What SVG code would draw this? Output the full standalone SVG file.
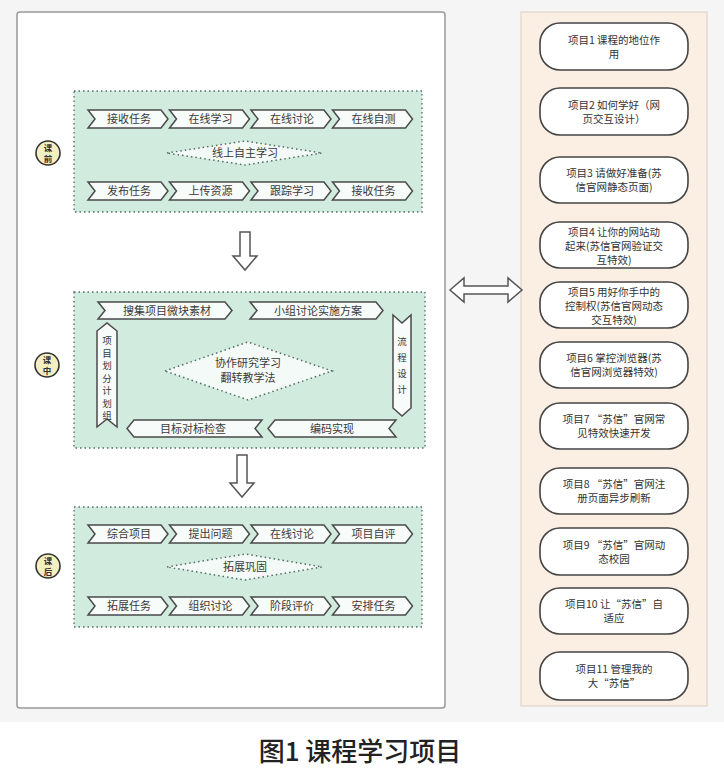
<svg xmlns="http://www.w3.org/2000/svg" width="724" height="777" viewBox="0 0 724 777">
<defs>
<style>
text{font-family:"Noto Sans CJK SC","Noto Sans",sans-serif;fill:#3a3a3a;}
.zone{fill:#d2ebdf;stroke:#4f6f60;stroke-width:1.3;stroke-dasharray:1.5 3;}
.chev{fill:#f7fbf9;stroke:#4a4a4a;stroke-width:1.5;}
.ct{font-size:11px;text-anchor:middle;}
.vt{font-size:9.5px;text-anchor:middle;}
.dia{fill:#f4faf7;stroke:#4f6f60;stroke-width:1.5;stroke-dasharray:1.5 3;}
.badge{fill:#f3efc2;stroke:#333;stroke-width:1.6;}
.bt{font-size:8.5px;font-weight:bold;text-anchor:middle;fill:#333;}
.blk{fill:#fff;stroke:#555;stroke-width:1.5;}
.pill{fill:#fff;stroke:#444;stroke-width:1.6;}
.pt{font-size:10.5px;text-anchor:middle;fill:#333;}
</style>
</defs>
<rect x="0" y="0" width="724" height="777" fill="#ffffff"/>
<rect x="0" y="0" width="724" height="722" fill="#f5f5f5"/>
<rect x="17" y="12" width="428" height="696" rx="3" fill="#fff" stroke="#999" stroke-width="1.5"/>
<rect x="521" y="12" width="186" height="694" fill="#fbeee2" stroke="#d9cfc6" stroke-width="1"/>

<g id="pre">
<rect class="zone" x="74" y="91" width="348" height="121"/>
<g id="pre-badge"><circle class="badge" cx="48" cy="153" r="12"/><text class="bt" x="48" y="151">课</text><text class="bt" x="48" y="161.5">前</text></g>
<g id="pre-r1">
<path class="chev" d="M88,110 L161,110 L168,119 L161,128 L88,128 L95,119 Z"/><text class="ct" x="129" y="123">接收任务</text>
<path class="chev" d="M169.5,110 L242.5,110 L249.5,119 L242.5,128 L169.5,128 L176.5,119 Z"/><text class="ct" x="210.5" y="123">在线学习</text>
<path class="chev" d="M251,110 L324,110 L331,119 L324,128 L251,128 L258,119 Z"/><text class="ct" x="292" y="123">在线讨论</text>
<path class="chev" d="M332.5,110 L405.5,110 L412.5,119 L405.5,128 L332.5,128 L339.5,119 Z"/><text class="ct" x="373.5" y="123">在线自测</text>
</g>
<g id="pre-d"><polygon class="dia" points="167,153 245,141 322,153 245,165"/><text class="ct" x="245" y="157">线上自主学习</text></g>
<g id="pre-r2">
<path class="chev" d="M88,182 L161,182 L168,191 L161,200 L88,200 L95,191 Z"/><text class="ct" x="129" y="195">发布任务</text>
<path class="chev" d="M169.5,182 L242.5,182 L249.5,191 L242.5,200 L169.5,200 L176.5,191 Z"/><text class="ct" x="210.5" y="195">上传资源</text>
<path class="chev" d="M251,182 L324,182 L331,191 L324,200 L251,200 L258,191 Z"/><text class="ct" x="292" y="195">跟踪学习</text>
<path class="chev" d="M332.5,182 L405.5,182 L412.5,191 L405.5,200 L332.5,200 L339.5,191 Z"/><text class="ct" x="373.5" y="195">接收任务</text>
</g>
</g>

<g id="mid">
<rect class="zone" x="74" y="292" width="351" height="156"/>
<g id="mid-badge"><circle class="badge" cx="47" cy="365" r="12"/><text class="bt" x="47" y="363">课</text><text class="bt" x="47" y="373.5">中</text></g>
<g id="m1"><path class="chev" d="M98,302 L225,302 L232,310.5 L225,319 L98,319 L105,310.5 Z"/><text class="ct" x="167" y="314.5">搜集项目微块素材</text></g>
<g id="m2"><path class="chev" d="M250,302 L376,302 L383,310.5 L376,319 L250,319 L257,310.5 Z"/><text class="ct" x="318" y="314.5">小组讨论实施方案</text></g>
<g id="m3"><path class="chev" d="M393,315 L402,323 L411,315 L411,408 L402,416 L393,408 Z"/>
<text class="vt" x="402"><tspan x="402" y="345">流</tspan><tspan x="402" y="361">程</tspan><tspan x="402" y="377">设</tspan><tspan x="402" y="393">计</tspan></text></g>
<g id="m4"><path class="chev" d="M396,420 L275,420 L268,428.5 L275,437 L396,437 L389,428.5 Z"/><text class="ct" x="332" y="432.5">编码实现</text></g>
<g id="m5"><path class="chev" d="M262,420 L134,420 L127,428.5 L134,437 L262,437 L255,428.5 Z"/><text class="ct" x="193" y="432.5">目标对标检查</text></g>
<g id="m6"><path class="chev" d="M97,331 L107,323 L117,331 L117,427 L107,419 L97,427 Z"/>
<text class="vt" x="107"><tspan x="107" y="344">项</tspan><tspan x="107" y="356.5">目</tspan><tspan x="107" y="369">划</tspan><tspan x="107" y="381.5">分</tspan><tspan x="107" y="394">计</tspan><tspan x="107" y="406.5">划</tspan><tspan x="107" y="419">组</tspan></text></g>
<g id="mid-d"><polygon class="dia" points="165,371 248,342 332,371 248,400"/><text class="ct" x="248" y="367">协作研究学习</text><text class="ct" x="248" y="382">翻转教学法</text></g>
</g>

<g id="post">
<rect class="zone" x="74" y="507" width="348" height="120"/>
<g id="post-badge"><circle class="badge" cx="48" cy="566" r="12"/><text class="bt" x="48" y="564">课</text><text class="bt" x="48" y="574.5">后</text></g>
<g id="post-r1">
<path class="chev" d="M88,525 L161,525 L168,534 L161,543 L88,543 L95,534 Z"/><text class="ct" x="129" y="538">综合项目</text>
<path class="chev" d="M169.5,525 L242.5,525 L249.5,534 L242.5,543 L169.5,543 L176.5,534 Z"/><text class="ct" x="210.5" y="538">提出问题</text>
<path class="chev" d="M251,525 L324,525 L331,534 L324,543 L251,543 L258,534 Z"/><text class="ct" x="292" y="538">在线讨论</text>
<path class="chev" d="M332.5,525 L405.5,525 L412.5,534 L405.5,543 L332.5,543 L339.5,534 Z"/><text class="ct" x="373.5" y="538">项目自评</text>
</g>
<g id="post-d"><polygon class="dia" points="167,567 245,554 322,567 245,580"/><text class="ct" x="245" y="571">拓展巩固</text></g>
<g id="post-r2">
<path class="chev" d="M88,597 L161,597 L168,606 L161,615 L88,615 L95,606 Z"/><text class="ct" x="129" y="610">拓展任务</text>
<path class="chev" d="M169.5,597 L242.5,597 L249.5,606 L242.5,615 L169.5,615 L176.5,606 Z"/><text class="ct" x="210.5" y="610">组织讨论</text>
<path class="chev" d="M251,597 L324,597 L331,606 L324,615 L251,615 L258,606 Z"/><text class="ct" x="292" y="610">阶段评价</text>
<path class="chev" d="M332.5,597 L405.5,597 L412.5,606 L405.5,615 L332.5,615 L339.5,606 Z"/><text class="ct" x="373.5" y="610">安排任务</text>
</g>
</g>

<g id="connectors">
<path class="blk" d="M240,232 L250,232 L250,256 L257,256 L245,270 L233,256 L240,256 Z"/>
<path class="blk" d="M237,455 L247,455 L247,483 L254,483 L242,497 L230,483 L237,483 Z"/>
<path class="blk" d="M450,290 L464,278 L464,286 L508,286 L508,278 L522,290 L508,302 L508,294 L464,294 L464,302 Z"/>
</g>

<g id="p1"><rect class="pill" x="540" y="23" width="148" height="47" rx="20"/><text class="pt" x="614" y="44">项目1 课程的地位作</text><text class="pt" x="614" y="58">用</text></g>
<g id="p2"><rect class="pill" x="540" y="88" width="148" height="47" rx="20"/><text class="pt" x="614" y="109">项目2 如何学好（网</text><text class="pt" x="614" y="123">页交互设计）</text></g>
<g id="p3"><rect class="pill" x="540" y="157" width="148" height="46" rx="20"/><text class="pt" x="614" y="177">项目3 请做好准备(苏</text><text class="pt" x="614" y="191">信官网静态页面)</text></g>
<g id="p4"><rect class="pill" x="540" y="222" width="148" height="46" rx="20"/><text class="pt" x="614" y="236">项目4 让你的网站动</text><text class="pt" x="614" y="250">起来(苏信官网验证交</text><text class="pt" x="614" y="264">互特效)</text></g>
<g id="p5"><rect class="pill" x="540" y="282" width="148" height="46" rx="20"/><text class="pt" x="614" y="296">项目5 用好你手中的</text><text class="pt" x="614" y="310">控制权(苏信官网动态</text><text class="pt" x="614" y="324">交互特效)</text></g>
<g id="p6"><rect class="pill" x="540" y="342" width="148" height="46" rx="20"/><text class="pt" x="614" y="362">项目6 掌控浏览器(苏</text><text class="pt" x="614" y="376">信官网浏览器特效)</text></g>
<g id="p7"><rect class="pill" x="540" y="403" width="148" height="46" rx="20"/><text class="pt" x="614" y="423">项目7 “苏信”官网常</text><text class="pt" x="614" y="437">见特效快速开发</text></g>
<g id="p8"><rect class="pill" x="540" y="468" width="148" height="46" rx="20"/><text class="pt" x="614" y="488">项目8 “苏信”官网注</text><text class="pt" x="614" y="502">册页面异步刷新</text></g>
<g id="p9"><rect class="pill" x="540" y="528" width="148" height="47" rx="20"/><text class="pt" x="614" y="549">项目9 “苏信”官网动</text><text class="pt" x="614" y="563">态校园</text></g>
<g id="p10"><rect class="pill" x="540" y="588" width="148" height="46" rx="20"/><text class="pt" x="614" y="608">项目10 让“苏信”自</text><text class="pt" x="614" y="622">适应</text></g>
<g id="p11"><rect class="pill" x="540" y="652" width="148" height="48" rx="20"/><text class="pt" x="614" y="673">项目11 管理我的</text><text class="pt" x="614" y="687">大“苏信”</text></g>

<text x="360" y="761" style="font-size:26px;font-weight:500;text-anchor:middle;fill:#222;font-family:'Noto Sans CJK SC',serif">图1  课程学习项目</text>
</svg>
